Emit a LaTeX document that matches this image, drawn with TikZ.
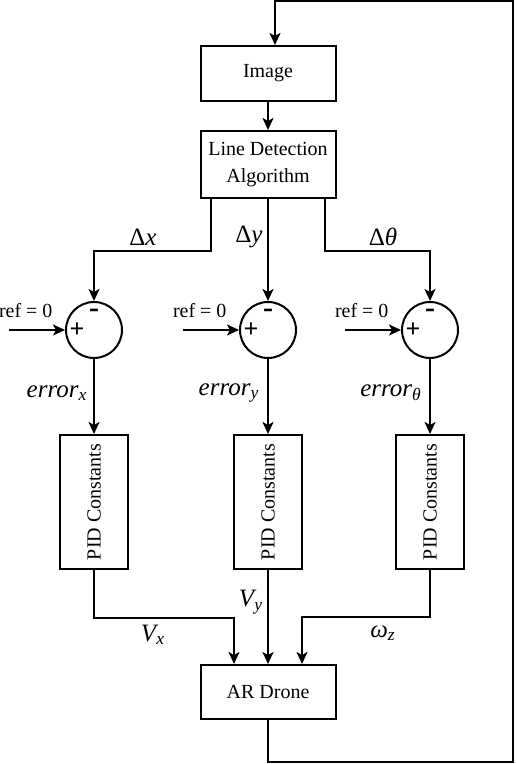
\documentclass[tikz,border=0pt]{standalone}
\usepackage{fontspec}
\setmainfont{Liberation Serif}
\usetikzlibrary{arrows.meta, positioning, calc}

\begin{document}
\begin{tikzpicture}[>={Stealth[length=6pt, width=5.5pt, inset=1.5pt]}, x=0.5pt, y=0.5pt, line width=1pt,
    block/.style={draw, minimum width=67.5pt, align=center, inner sep=2pt, font=\fontsize{10}{13.5}\selectfont},
    sum/.style={draw, circle, minimum size=28pt, inner sep=0pt},
    pid/.style={draw, minimum width=34pt, minimum height=67pt, inner sep=0pt, font=\fontsize{10}{12}\selectfont},
    lab/.style={font=\fontsize{12.5}{14}\selectfont\itshape},
    reflab/.style={inner sep=0pt, anchor=base west, font=\fontsize{10}{12}\selectfont}]
    \useasboundingbox (0,0) rectangle (516,764);

    \node (Image) at (268,690.5) [block, minimum height=27.5pt] {Image};
    \node (LDA) at (268,599.5) [block, minimum height=33.5pt] {Line Detection\\Algorithm};

    \node (Sum1) at (94,434) [sum] {};
    \node (Sum2) at (268,434) [sum] {};
    \node (Sum3) at (430,434) [sum] {};

    \node (PID1) at (94,262) [pid] {\rotatebox{90}{PID Constants}};
    \node (PID2) at (268,262) [pid] {\rotatebox{90}{PID Constants}};
    \node (PID3) at (430,262) [pid] {\rotatebox{90}{PID Constants}};

    \node (Drone) at (268,72) [block, minimum height=27pt] {AR Drone};

    \foreach \s in {Sum1,Sum2,Sum3} {
        \node (\s-p) at ($(\s)+(-17,0)$) [font=\fontsize{13}{14}\selectfont\bfseries] {+};
        \node (\s-m) at ($(\s)+(0,17)$) [font=\fontsize{15}{16}\selectfont\bfseries] {-};
        \coordinate[left=28pt of \s] (\s-in);
        \node (\s-ref) at ($(\s-in)+(-11,12)$) [reflab] {ref = 0};
        \draw[->] (\s-in) -- (\s);
    }

    \draw[->] (Image) -- (LDA);
    \draw[->] ($(LDA.south west)+(11,0)$) -- ++(0,-52) -| (Sum1.north);
    \draw[->] (LDA.south) -- (Sum2.north);
    \draw[->] ($(LDA.south east)+(-12,0)$) -- ++(0,-52) -| (Sum3.north);

    \draw[->] (Sum1) -- (PID1);
    \draw[->] (Sum2) -- (PID2);
    \draw[->] (Sum3) -- (PID3);

    \draw[->] (PID1.south) -- ++(0,-48) -| ($(Drone.north)+(-34,0)$);
    \draw[->] (PID2) -- (Drone);
    \draw[->] (PID3.south) -- ++(0,-47) -| ($(Drone.north)+(34,0)$);

    \coordinate (fbB) at (513,2);
    \coordinate (fbT) at (513,763);
    \draw[->] (Drone.south) |- (fbB) -- (fbT) -| ($(Image.north)+(7,0)$);

    \node (dx) at (143,527) [lab] {{\upshape Δ}x};
    \node (dy) at (249,527) [lab] {{\upshape Δ}y};
    \node (dth) at (383,527) [lab] {{\upshape Δ}θ};

    \node (ex) at (57,371) [lab] {error\textsubscript{x}};
    \node (ey) at (229,371) [lab] {error\textsubscript{y}};
    \node (eth) at (391,371) [lab] {error\textsubscript{θ}};

    \node (vx) at (153,129) [lab] {V\textsubscript{x}};
    \node (vy) at (251,162) [lab] {V\textsubscript{y}};
    \node (wz) at (383,131) [lab] {ω\textsubscript{z}};
\end{tikzpicture}
\end{document}
